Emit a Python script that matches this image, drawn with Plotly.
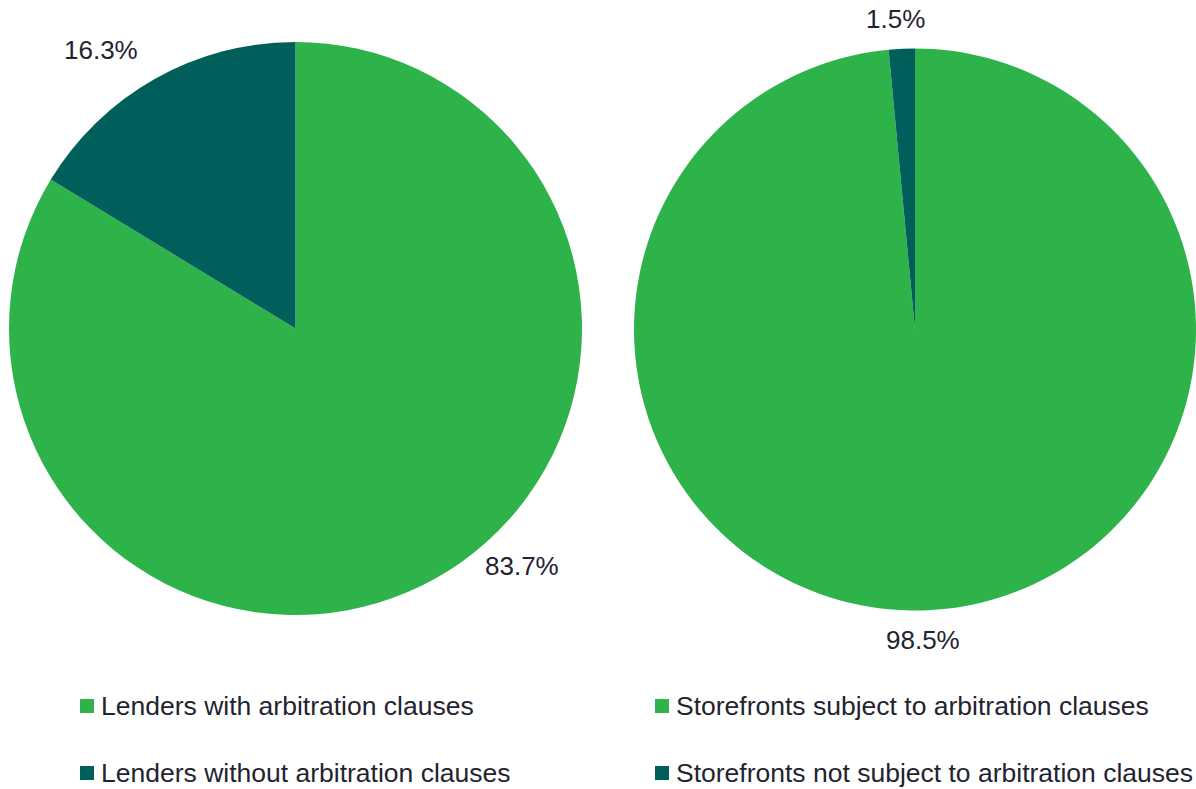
import math
import plotly.graph_objects as go

lenders_labels = ["Lenders with arbitration clauses", "Lenders without arbitration clauses"]
lenders_values = [83.7, 16.3]
store_labels = ["Storefronts subject to arbitration clauses", "Storefronts not subject to arbitration clauses"]
store_values = [98.5, 1.5]
colors = ["#2db34a", "#005f5b"]

W, H = 1196, 789
FONT = "Arial, 'Liberation Sans', sans-serif"
TXT = "#1f2430"

# pie geometry (pixels): left, right, top, bottom of each pie's domain
pies = [
    dict(labels=lenders_labels, values=lenders_values, box=(9, 582, 42, 615),
         nudge=[(71, -38), (-39, -3)]),
    dict(labels=store_labels, values=store_values, box=(634, 1196, 48, 611),
         nudge=[(-7, 0), (-5, 0)]),
]

fig = go.Figure()
for p in pies:
    l, r, t, b = p["box"]
    fig.add_trace(go.Pie(
        labels=p["labels"], values=p["values"], sort=False, direction="clockwise",
        rotation=0, marker=dict(colors=colors, line=dict(width=0)),
        textinfo="none", showlegend=False, hoverinfo="label+percent",
        domain=dict(x=[l / W, r / W], y=[1 - b / H, 1 - t / H]),
    ))
    # percentage labels placed outside each slice, at its mid angle
    cx, cy = (l + r) / 2, (t + b) / 2
    rad = min(r - l, b - t) / 2
    total = sum(p["values"])
    cum = 0.0
    for v, (nx, ny) in zip(p["values"], p["nudge"]):
        mid = (cum + v / 2) / total * 2 * math.pi
        cum += v
        d = rad + 30
        px = cx + d * math.sin(mid) + nx
        py = cy - d * math.cos(mid) + ny
        fig.add_annotation(xref="paper", yref="paper", x=px / W, y=1 - py / H,
                           text=f"{v:.1f}%", showarrow=False,
                           xanchor="center", yanchor="middle",
                           font=dict(size=26, color=TXT, family=FONT))

# Custom legends below each pie
legend_specs = [(80, lenders_labels), (655, store_labels)]
row_y = [706, 773]
for x0, labels in legend_specs:
    for i, lab in enumerate(labels):
        yc = row_y[i]
        fig.add_shape(type="rect", xref="paper", yref="paper",
                      x0=x0 / W, x1=(x0 + 14) / W, y0=1 - (yc + 7) / H, y1=1 - (yc - 7) / H,
                      fillcolor=colors[i], line=dict(width=0))
        fig.add_annotation(xref="paper", yref="paper", x=(x0 + 19) / W, y=1 - yc / H,
                           text=lab, showarrow=False, xanchor="left", yanchor="middle",
                           font=dict(size=26.5, color=TXT, family=FONT))

fig.update_layout(
    width=W, height=H, margin=dict(l=0, r=0, t=0, b=0),
    paper_bgcolor="white", plot_bgcolor="white",
    font=dict(family=FONT, color=TXT),
)
fig.write_html("out.html", config={"displayModeBar": False},
               post_script="document.body.style.margin='0';document.body.style.overflow='hidden';")
